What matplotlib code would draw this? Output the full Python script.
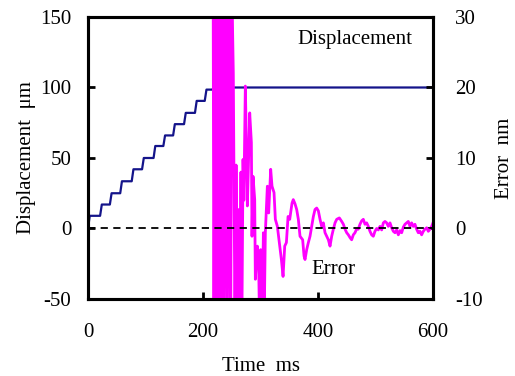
import numpy as np
import matplotlib.pyplot as plt

plt.rcParams['font.family'] = ['Liberation Serif', 'DejaVu Serif']
plt.rcParams['font.size'] = 15
plt.rcParams['axes.unicode_minus'] = False

# Displacement: staircase steps (start time of each step, level after it), in ms / um
step_t = [0, 21, 38, 56, 76, 94, 114, 131, 148, 167, 186, 203, 216]
step_level = [9, 17, 25, 33.5, 42, 50, 58.5, 66, 74, 82, 90.5, 98.5, 100]
t_end = 600

# Error signal (ms, nm); values beyond the axis are clipped
err_t = [217.5, 219, 221, 223, 225, 227, 229, 231, 233, 236, 239, 242, 245, 248,
         250, 252.7, 255.6, 257.5, 260, 262.6, 264, 266, 267.5, 269.6, 271, 273.6,
         275, 277.1, 279, 281.2, 284.1, 285.2, 287, 289.9, 291, 294.5, 296.8, 298.6,
         300.3, 302.6, 305, 306.1, 308.4, 311.9, 314.2, 317.7, 320, 323.5, 325.8,
         329.3, 333.4, 336.3, 339.2, 342.1, 345, 347.9, 350.8, 354.8, 357, 360,
         362.9, 365.8, 368.7, 373.3, 375.7, 377.4, 380.3, 383.2, 386.1, 389, 391.9,
         394.8, 397.7, 400.6, 403.5, 406.4, 409.3, 412.2, 415.1, 418, 420.9, 423.8,
         426.7, 429.6, 432.5, 437.1, 441.2, 444.1, 447, 449.9, 452.8, 455.7, 458.5,
         461.4, 464.3, 467, 470, 473, 476, 478.8, 481.7, 484.6, 487.5, 490.4, 493.3,
         496.2, 499, 502, 504.9, 507.8, 510.7, 513.6, 516.5, 519.4, 522.3, 525.2,
         528.1, 531, 533.9, 536.8, 539.7, 542.6, 545.5, 548.4, 551.3, 554.2, 557, 560,
         562.8, 565.7, 568.6, 571.5, 574.4, 577.3, 580.2, 583.1, 586, 589, 591.8,
         594.7, 597.6, 600]
err_v = [40, -20, 40, -20, 40, -20, 40, -20, 40, -20, 40, -20, 40, -20,
         35, 22, -15, 9, -15, 2.7, -15, 8, -15, 9.8, 4, 20.2,
         14, 3.2, 9, 16.4, 12.2, -1.1, 7.4, 4.1, -7.2, -2.5, -5.3, -15,
         -3, -15, -0.6, -15, -0.6, 6, 2.2, 8.4, 6, 5.1, 1.3,
         0.3, -2.5, -4.4, -6.8, -2.5, -2, 1.7, 1.3, 3.6, 4.1, 3.5,
         2.7, 1.3, -1.1, -1.6, -3.9, -4.4, -3, -2, -1.1, 0.3, 1.7,
         2.7, 2.9, 2.5, 1.3, 0.3, 0.8, -0.6, -1.1, -1.6, -2.5, -1.1,
         -0.1, 0.8, 1.3, 1.5, 1.0, 0.6, -0.1, -0.6, -0.9, -1.3, -1.6,
         -0.9, -0.6, -0.1, -0.1, 0.6, 1.1, 1.3, 0.6, 0.8, 0.3, -0.4, -0.9,
         -1.1, -0.4, 0, -0.2, 0.3, -0.2, 0.8, 1.0, 0.8, 0.3, 0.8,
         0.1, -0.4, -0.6, -0.2, -0.9, -0.3, -0.6, 0.2, 0.6, 0.8, 1.0, 0.3,
         0.8, 0.3, 0.6, -0.1, -0.6, -0.4, -0.9, -0.4, -0.1, 0.1, -0.4,
         -0.1, 0.3, 0.8]

# build staircase with a short rise at every step
disp_t = [0]
disp_v = [0]
prev = 0
for t0, lv in zip(step_t, step_level):
    disp_t += [t0, t0 + 3]
    disp_v += [prev, lv]
    prev = lv
disp_t.append(t_end)
disp_v.append(prev)

fig = plt.figure(figsize=(5.15, 3.76), dpi=100)
ax = fig.add_axes([0.1709, 0.2048, 0.6699, 0.75])
ax2 = ax.twinx()

ax.plot(disp_t, disp_v, color='#14148a', lw=1.6)
ax2.plot(err_t, err_v, color='#ff00ff', lw=2.0)
ax2.axhline(0, color='black', lw=1.3, ls=(0, (4, 3)))

ax.set_xlim(0, 600)
ax.set_ylim(-50, 150)
ax2.set_ylim(-10, 30)
ax.set_xticks([0, 200, 400, 600])
ax.set_yticks([-50, 0, 50, 100, 150])
ax2.set_yticks([-10, 0, 10, 20, 30])

for a in (ax, ax2):
    for s in a.spines.values():
        s.set_linewidth(2.2)
    a.tick_params(direction='in', length=5, width=2)
ax.tick_params(axis='x', pad=17)
ax.tick_params(axis='y', pad=12)
ax2.tick_params(axis='y', pad=16)

ax.set_xlabel('Time  ms', labelpad=11)
ax.set_ylabel('Displacement  μm', labelpad=3)
ax2.set_ylabel('Error  nm', labelpad=9)

ax.text(464, 134, 'Displacement', ha='center', va='center')
ax.text(426, -29, 'Error', ha='center', va='center')

fig.savefig('out.png', dpi=100)
